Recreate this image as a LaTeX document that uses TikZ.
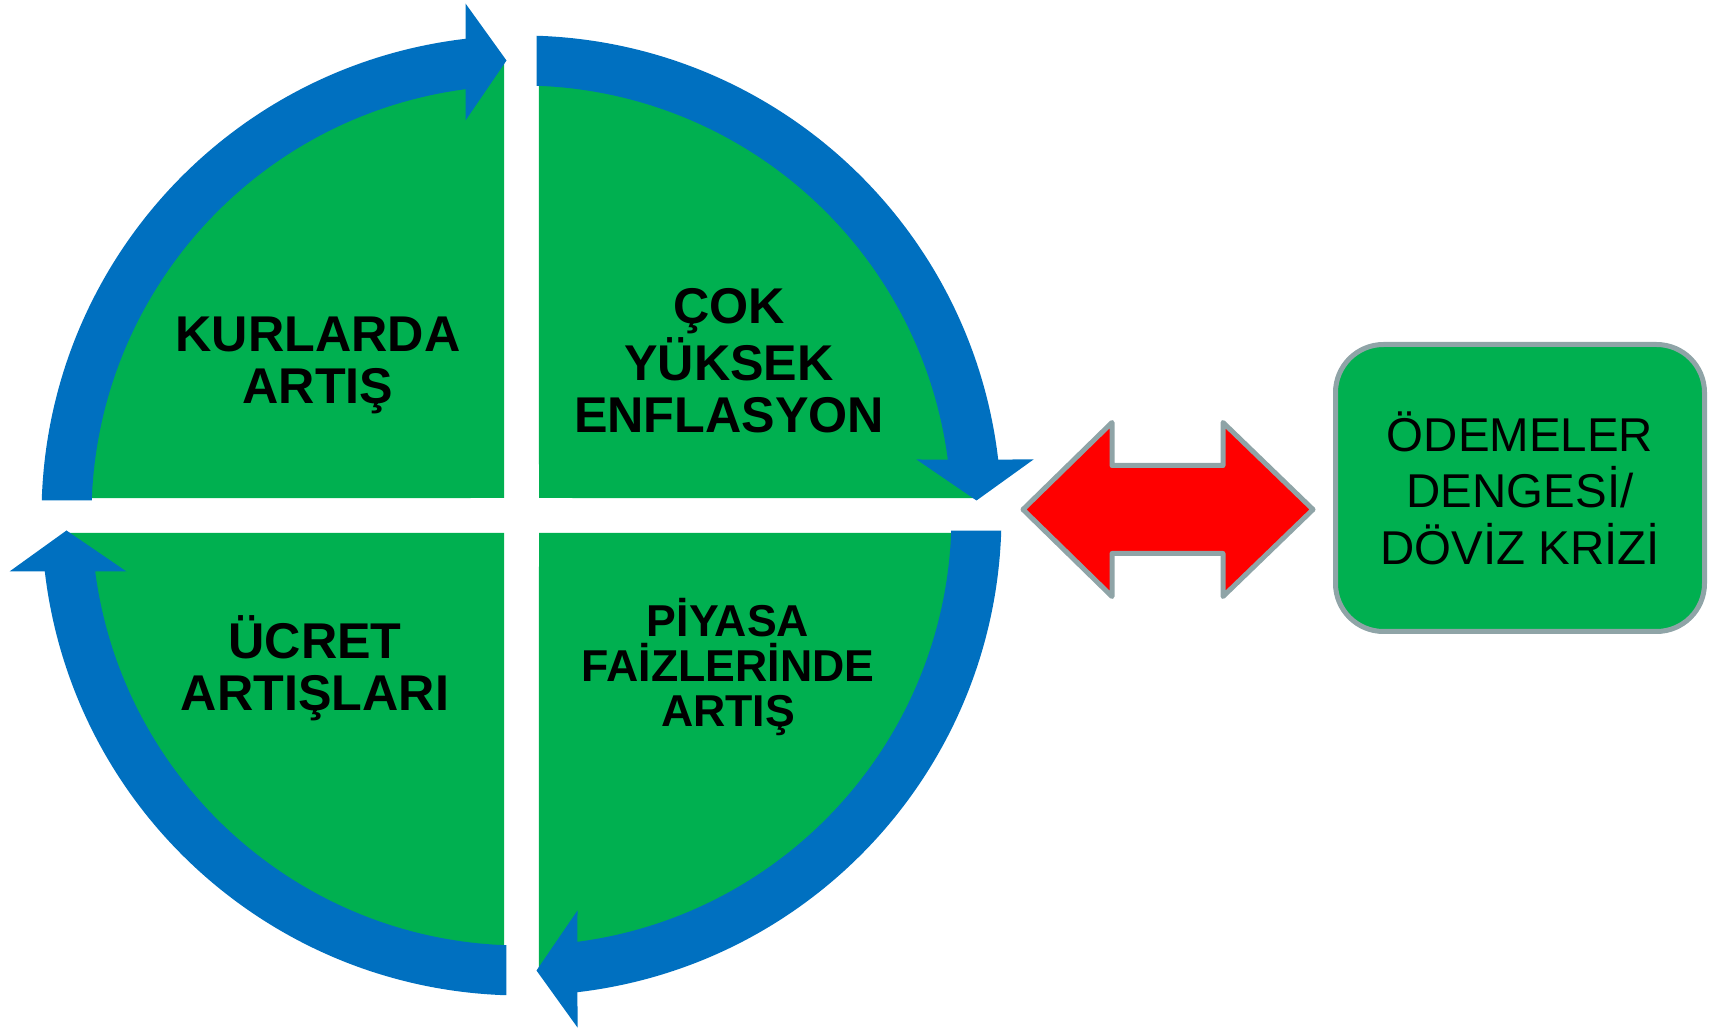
\documentclass[tikz,border=0pt]{standalone}
\usepackage{fontspec}
\setmainfont{Liberation Sans}
\definecolor{cblue}{RGB}{0,112,192}
\definecolor{cgreen}{RGB}{0,176,80}
\definecolor{cgray}{RGB}{143,164,167}
\definecolor{cred}{RGB}{255,0,0}
\tikzset{
  quadtext/.style={align=center, inner sep=0pt, font=\bfseries\fontsize{14.3pt}{14.8pt}\selectfont},
  quadsmall/.style={align=center, inner sep=0pt, font=\bfseries\fontsize{12.7pt}{12.9pt}\selectfont},
  crisisbox/.style={draw=cgray, line width=0.5mm, fill=cgreen, rounded corners=4.8mm,
    minimum width=36.9mm, minimum height=28.7mm, inner sep=0pt, align=center,
    font=\fontsize{13.5pt}{16.1pt}\selectfont},
  bothways/.style={draw=cgray, line width=0.5mm, fill=cred, line join=round}
}
\begin{document}
\begin{tikzpicture}[x=0.1mm,y=0.1mm]
\useasboundingbox (0,0) rectangle (1715,1029);
\coordinate (C) at (521.5,513.5);
% green quadrants
\foreach \r in {0,-90,-180,-270} {
  \begin{scope}[shift={(C)}, rotate=\r]
    \fill[cgreen] (-17.5,17.5) -- (177.8:455) arc[start angle=177.8, end angle=92.2, radius=455] -- cycle;
  \end{scope}
}
% blue circular arrows
\foreach \r in {0,-90,-180,-270} {
  \begin{scope}[shift={(C)}, rotate=\r]
    \fill[cblue] (178.2:480) arc[start angle=178.2, end angle=96.7, radius=480]
      -- (-56,512) -- (-15,455) -- (-56,395)
      -- (97.48:430) arc[start angle=97.48, end angle=178.0, radius=430] -- cycle;
  \end{scope}
}
% texts
\node[quadtext] (kur) at (318,664) {KURLARDA\\ARTIŞ};
\node[quadtext] (enf) at (729,668) {ÇOK\\YÜKSEK\\ENFLASYON};
\node[quadtext] (ucr) at (315,360.5) {ÜCRET\\ARTIŞLARI};
\node[quadsmall] (faiz) at (728,362) {PİYASA\\FAİZLERİNDE\\ARTIŞ};
% double arrow
\draw[bothways] (1023,519.5) -- (1112,606.5) -- (1112,563.5) -- (1223,563.5) -- (1223,606.5)
  -- (1313,519.5) -- (1223,432.5) -- (1223,475.5) -- (1112,475.5) -- (1112,432.5) -- cycle;
% crisis box
\node[crisisbox] (kriz) at (1520,541) {\raisebox{0pt}{}ÖDEMELER\\DENGESİ/\\DÖVİZ KRİZİ};
\end{tikzpicture}
\end{document}
